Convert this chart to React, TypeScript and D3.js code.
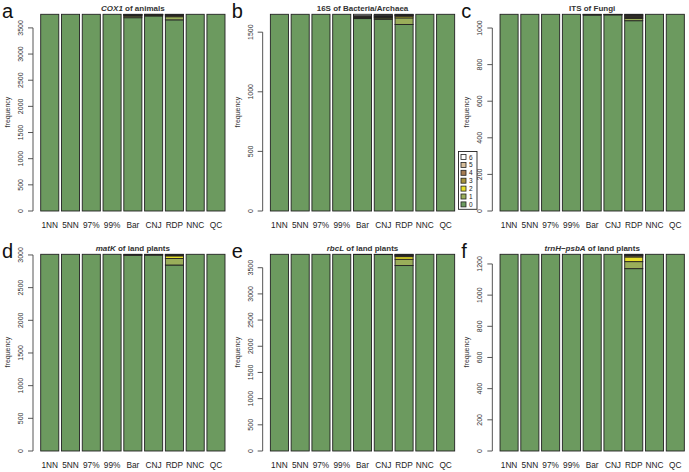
import React from "react";
import * as d3 from "d3";

const categories = ["1NN", "5NN", "97%", "99%", "Bar", "CNJ", "RDP", "NNC", "QC"];
const levels = ["0", "1", "2", "3", "4", "5", "6"];
const levelColors = ["#6c9a5f", "#9aae5a", "#e6df2a", "#a8943c", "#a67c52", "#d6bc98", "#ffffff"];

const panelLetters = ["a", "b", "c", "d", "e", "f"];
const titleItalic = ["COX1", "", "", "matK", "rbcL", "trnH\u2212psbA"];
const titleRest = [" of animals", "16S of Bacteria/Archaea", "ITS of Fungi", " of land plants", " of land plants", " of land plants"];
const totals = [3760, 1650, 1075, 3010, 3756, 1262];
const tickSteps = [500, 500, 200, 500, 500, 200];

// counts of levels 1..6 for each category (level 0 = total - sum)
const cox1Counts = [
  [0, 0, 0, 0, 0, 0], [0, 0, 0, 0, 0, 0], [0, 0, 0, 0, 0, 0], [0, 0, 0, 0, 0, 0],
  [30, 15, 8, 5, 4, 3], [14, 7, 4, 3, 2, 1], [60, 20, 10, 8, 5, 3],
  [0, 0, 0, 0, 0, 0], [0, 0, 0, 0, 0, 0],
];
const s16Counts = [
  [0, 0, 0, 0, 0, 0], [0, 0, 0, 0, 0, 0], [0, 0, 0, 0, 0, 0], [0, 0, 0, 0, 0, 0],
  [8, 4, 4, 4, 4, 12], [10, 6, 6, 6, 6, 8], [55, 14, 6, 4, 3, 3],
  [0, 0, 0, 0, 0, 0], [0, 0, 0, 0, 0, 0],
];
const itsCounts = [
  [0, 0, 0, 0, 0, 0], [0, 0, 0, 0, 0, 0], [0, 0, 0, 0, 0, 0], [0, 0, 0, 0, 0, 0],
  [3, 1, 0, 0, 0, 0], [2, 1, 0, 0, 0, 0], [12, 6, 6, 5, 4, 2],
  [0, 0, 0, 0, 0, 0], [0, 0, 0, 0, 0, 0],
];
const matkCounts = [
  [0, 0, 0, 0, 0, 0], [0, 0, 0, 0, 0, 0], [0, 0, 0, 0, 0, 0], [0, 0, 0, 0, 0, 0],
  [10, 5, 0, 0, 0, 0], [8, 4, 0, 0, 0, 0], [100, 40, 10, 6, 4, 4],
  [0, 0, 0, 0, 0, 0], [0, 0, 0, 0, 0, 0],
];
const rbclCounts = [
  [0, 0, 0, 0, 0, 0], [0, 0, 0, 0, 0, 0], [0, 0, 0, 0, 0, 0], [0, 0, 0, 0, 0, 0],
  [4, 0, 0, 0, 0, 0], [5, 0, 0, 0, 0, 0], [120, 50, 20, 10, 8, 7],
  [0, 0, 0, 0, 0, 0], [0, 0, 0, 0, 0, 0],
];
const trnhCounts = [
  [0, 0, 0, 0, 0, 0], [0, 0, 0, 0, 0, 0], [0, 0, 0, 0, 0, 0], [0, 0, 0, 0, 0, 0],
  [0, 0, 0, 0, 0, 0], [0, 0, 0, 0, 0, 0], [45, 30, 8, 4, 3, 2],
  [0, 0, 0, 0, 0, 0], [0, 0, 0, 0, 0, 0],
];
const panelCounts = [cox1Counts, s16Counts, itsCounts, matkCounts, rbclCounts, trnhCounts];

const W = 689;
const H = 472;
const panelW = W / 3;
const rowH = 240;
const plotH = 196.7;
const baseY = 211;
const FONT = "Liberation Sans, Arial, Helvetica, sans-serif";

function Panel({ idx }: { idx: number }) {
  const col = idx % 3;
  const row = Math.floor(idx / 3);
  const ox = col * panelW;
  const oy = row * rowH;
  const total = totals[idx];
  const x = d3.scaleBand<string>().domain(categories).range([ox + 40.7, ox + 225]).paddingInner(0.13).paddingOuter(0);
  const y = d3.scaleLinear().domain([0, total]).range([oy + baseY, oy + baseY - plotH]);
  const ticks = d3.range(0, total + 1, tickSteps[idx]);
  const axisX = ox + 33;

  const data = categories.map((c, i) => {
    const errs = panelCounts[idx][i];
    const obj: any = { cat: c };
    const s = d3.sum(errs);
    obj["0"] = total - s;
    errs.forEach((v, j) => (obj[String(j + 1)] = v));
    return obj;
  });
  const series = d3.stack().keys(levels)(data);

  const titleX = ox + (40.7 + 225) / 2;
  return (
    <g>
      <text x={ox + 2} y={oy + 18} fontSize={20} fontFamily={FONT} fill="#111">{panelLetters[idx]}</text>
      <text x={titleX} y={oy + 10.5} fontSize={8} fontWeight="bold" fontFamily={FONT} fill="#333" textAnchor="middle">
        {titleItalic[idx] ? <tspan fontStyle="italic">{titleItalic[idx]}</tspan> : null}
        <tspan>{titleRest[idx]}</tspan>
      </text>
      {series.map((s, li) =>
        s.map((d, ci) => {
          const h = y(d[0]) - y(d[1]);
          if (h <= 0) return null;
          return (
            <rect key={li + "-" + ci} x={x(categories[ci])} y={y(d[1])} width={x.bandwidth()} height={h}
              fill={levelColors[li]} stroke="#222" strokeWidth={0.9} />
          );
        })
      )}
      <line x1={axisX} x2={axisX} y1={y(0)} y2={y(ticks[ticks.length - 1])} stroke="#444" strokeWidth={0.9} />
      {ticks.map((t) => (
        <g key={t}>
          <line x1={axisX - 5} x2={axisX} y1={y(t)} y2={y(t)} stroke="#444" strokeWidth={0.9} />
          <text transform={`translate(${ox + 23},${y(t)}) rotate(-90)`} fontSize={7} fontFamily={FONT} fill="#333" textAnchor="middle">{t}</text>
        </g>
      ))}
      <text transform={`translate(${ox + 10},${oy + 112}) rotate(-90)`} fontSize={7} fontFamily={FONT} fill="#333" textAnchor="middle">frequency</text>
      {categories.map((c) => (
        <text key={c} x={(x(c) as number) + x.bandwidth() / 2} y={oy + 227.5} fontSize={8.3} fontFamily={FONT} fill="#222" textAnchor="middle">{c}</text>
      ))}
    </g>
  );
}

function Legend() {
  const lx = 458.5;
  const ly = 151.5;
  const items = [...levels].reverse();
  const step = 7.9;
  return (
    <g>
      <rect x={lx} y={ly} width={18.5} height={items.length * step + 2.5} fill="#fff" stroke="#222" strokeWidth={0.9} />
      {items.map((l, i) => (
        <g key={l}>
          <rect x={lx + 2.5} y={ly + 3 + i * step} width={5} height={5} fill={levelColors[+l]} stroke="#222" strokeWidth={0.8} />
          <text x={lx + 10.5} y={ly + 8 + i * step} fontSize={6.5} fontFamily={FONT} fill="#222">{l}</text>
        </g>
      ))}
    </g>
  );
}

export default function App() {
  return (
    <svg width={W} height={H} style={{ position: "absolute", left: 0, top: 0, background: "#fff" }}>
      <rect width={W} height={H} fill="#fff" />
      {totals.map((_, i) => (
        <Panel key={i} idx={i} />
      ))}
      <Legend />
    </svg>
  );
}
